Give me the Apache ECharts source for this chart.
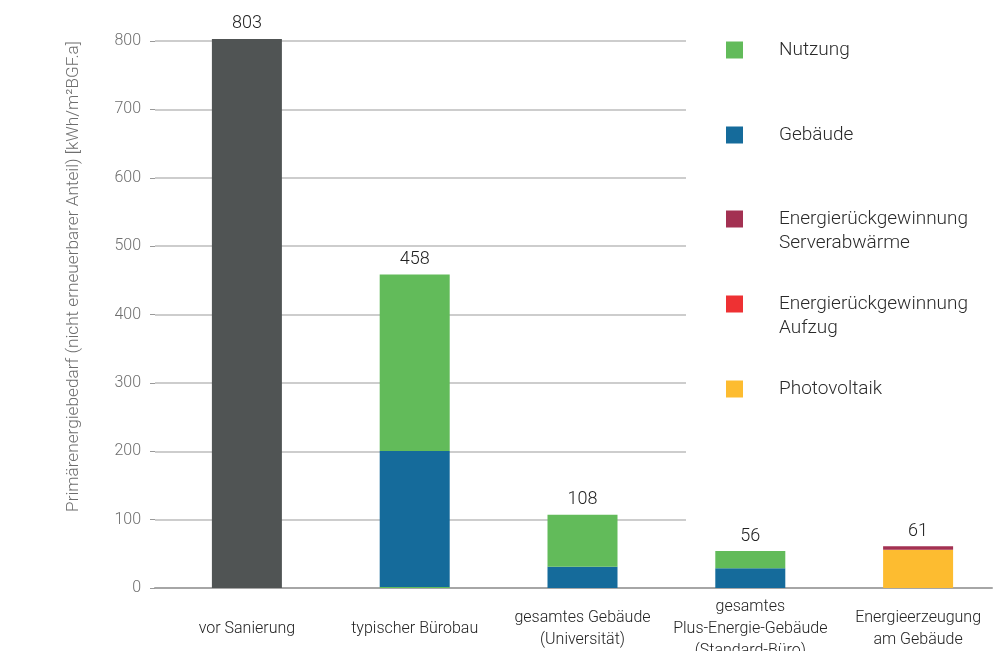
<!DOCTYPE html>
<html>
<head>
<meta charset="utf-8">
<script src="https://cdn.jsdelivr.net/npm/echarts@6/dist/echarts.min.js"></script>
<style>html,body{margin:0;padding:0;background:#fff}#c{width:1006px;height:651px}</style>
</head>
<body>
<div id="c"></div>
<script>
const categories = ['vor Sanierung', 'typischer Bürobau', 'gesamtes Gebäude\n(Universität)', 'gesamtes\nPlus-Energie-Gebäude\n(Standard-Büro)', 'Energieerzeugung\nam Gebäude'];
const bestand = [803, '-', '-', '-', '-'];
const nutzungBasis = ['-', 1.5, '-', '-', '-'];
const gebaeude = ['-', 199, 31, 29, '-'];
const nutzung = ['-', 258, 76, 25, '-'];
const photovoltaik = ['-', '-', '-', '-', 56];
const aufzug = ['-', '-', '-', '-', 0];
const serverabwaerme = ['-', '-', '-', '-', 5];
const totals = [803, 458, 108, 56, 61];
const yTicks = [0, 100, 200, 300, 400, 500, 600, 700, 800];

const FONT = 'Roboto, "Liberation Sans", sans-serif';
const C = {
  bestand: '#505454', nutzung: '#62bb5a', gebaeude: '#156b9b',
  server: '#a33152', aufzug: '#ee3133', pv: '#fdbc30'
};

const chart = echarts.init(document.getElementById('c'), null, {renderer: 'canvas'});

function leg(name, top, twoLine) {
  return {
    data: [name], orient: 'vertical', left: 721, top: top,
    icon: 'rect', itemWidth: 17, itemHeight: 17, selectedMode: false,
    formatter: n => twoLine ? '\u00a0\n' + n : n,
    textStyle: {fontFamily: FONT, fontSize: 19, fontWeight: 300, color: '#2a2a2a', lineHeight: 24,
      padding: [0, 0, 0, 31]}
  };
}

const bar = (name, data, color) => ({
  name, type: 'bar', stack: 'a', data, xAxisIndex: 1, yAxisIndex: 1, clip: false,
  barWidth: 70, itemStyle: {color}, emphasis: {disabled: true}
});

const gridBase = {top: 41, bottom: 63, outerBoundsMode: 'none', containLabel: false};

chart.setOption({
  animation: false,
  textStyle: {fontFamily: FONT},
  grid: [
    Object.assign({left: 155, right: 320}, gridBase),
    Object.assign({left: 163, right: 4}, gridBase),
    Object.assign({left: 155, right: 14}, gridBase)
  ],
  legend: [
    leg('Nutzung', 33, false),
    leg('Gebäude', 118, false),
    leg('Energierückgewinnung\nServerabwärme', 178, true),
    leg('Energierückgewinnung\nAufzug', 263, true),
    leg('Photovoltaik', 372, false)
  ],
  xAxis: [
    {gridIndex: 0, type: 'value', show: false},
    {gridIndex: 1, type: 'category', data: categories,
      axisLine: {show: false}, axisTick: {show: false},
      axisLabel: {interval: 0, margin: 41, verticalAlign: 'middle', fontSize: 16, fontWeight: 300,
        color: '#222', lineHeight: 22}},
    {gridIndex: 2, type: 'value', axisLabel: {show: false}, axisTick: {show: false},
      splitLine: {show: false}, axisLine: {show: true, lineStyle: {color: '#a6a6a6', width: 2}}}
  ],
  yAxis: [
    {gridIndex: 0, type: 'value', min: 0, max: 800, interval: 100,
      axisLine: {show: false},
      axisTick: {show: true, length: 5, lineStyle: {color: '#999'}},
      axisLabel: {margin: 14, fontSize: 16, fontWeight: 300, color: '#6e6e6e',
        formatter: v => yTicks.includes(v) ? String(v) : ''},
      splitLine: {lineStyle: {color: '#bdbdbd', width: 1.5}},
      name: 'Primärenergiebedarf (nicht erneuerbarer Anteil) [kWh/m²BGF.a]',
      nameLocation: 'middle', nameGap: 73,
      nameTextStyle: {fontSize: 17.2, fontWeight: 300, color: '#6e6e6e', padding: [0, 0, 0, 76]}},
    {gridIndex: 1, type: 'value', min: 0, max: 800, show: false},
    {gridIndex: 2, type: 'value', min: 0, max: 800, show: false}
  ],
  series: [
    bar('vor Sanierung', bestand, C.bestand),
    bar('Nutzung (Basis)', nutzungBasis, C.nutzung),
    bar('Gebäude', gebaeude, C.gebaeude),
    bar('Nutzung', nutzung, C.nutzung),
    bar('Photovoltaik', photovoltaik, C.pv),
    bar('Energierückgewinnung\nAufzug', aufzug, C.aufzug),
    bar('Energierückgewinnung\nServerabwärme', serverabwaerme, C.server),
    Object.assign(bar('Summe', [0, 0, 0, 0, 0], 'rgba(0,0,0,0)'), {
      label: {show: true, position: 'top', distance: 6, fontSize: 18, fontWeight: 300, color: '#222',
        formatter: p => String(totals[p.dataIndex])}
    })
  ]
});
</script>
</body>
</html>
